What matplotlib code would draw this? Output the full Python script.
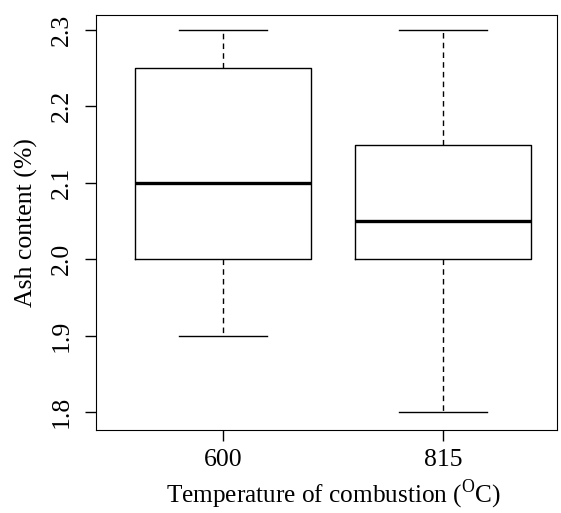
import matplotlib
matplotlib.use("Agg")
import matplotlib.pyplot as plt

plt.rcParams['font.family'] = ['Liberation Serif', 'DejaVu Serif']
plt.rcParams['mathtext.fontset'] = 'custom'
plt.rcParams['mathtext.rm'] = 'Liberation Serif'

# datos
temps = ['600', '815']
whislo = [1.9, 1.8]
q1 = [2.0, 2.0]
med = [2.1, 2.05]
q3 = [2.25, 2.15]
whishi = [2.3, 2.3]
yticks = [1.8, 1.9, 2.0, 2.1, 2.2, 2.3]

stats = []
for i in range(len(temps)):
    stats.append({'label': temps[i], 'whislo': whislo[i], 'q1': q1[i],
                  'med': med[i], 'q3': q3[i], 'whishi': whishi[i], 'fliers': []})

fig = plt.figure(figsize=(5.61, 5.13), dpi=100)
ax = fig.add_axes([0.1711, 0.1618, 0.8218, 0.809])

ax.bxp(stats, positions=[1, 2], widths=0.8, showfliers=False,
       boxprops=dict(color='black', linewidth=1),
       whiskerprops=dict(color='black', linewidth=1, linestyle=(0, (4, 3))),
       capprops=dict(color='black', linewidth=1),
       medianprops=dict(color='black', linewidth=2.4, solid_capstyle='butt'),
       capwidths=0.4)

ax.set_xlim(0.423, 2.518)
ax.set_ylim(1.7764, 2.3196)
ax.set_xticks([1, 2])
ax.set_xticklabels(temps, fontsize=18.5)
ax.set_yticks(yticks)
ax.set_yticklabels([f'{v:.1f}' for v in yticks], fontsize=18.5, rotation=90, va='center')
ax.tick_params(length=8, width=1)
ax.tick_params(axis='y', pad=9)
ax.tick_params(axis='x', pad=6)

ax.set_ylabel('Ash content (%)', fontsize=18.5, labelpad=9)
ax.set_xlabel(r'Temperature of combustion ($^{\mathrm{O}}$C)', fontsize=18.2)
ax.xaxis.set_label_coords(0.515, -0.117)
ax.xaxis.label.set_va('top')

fig.savefig('out.png', dpi=100)
